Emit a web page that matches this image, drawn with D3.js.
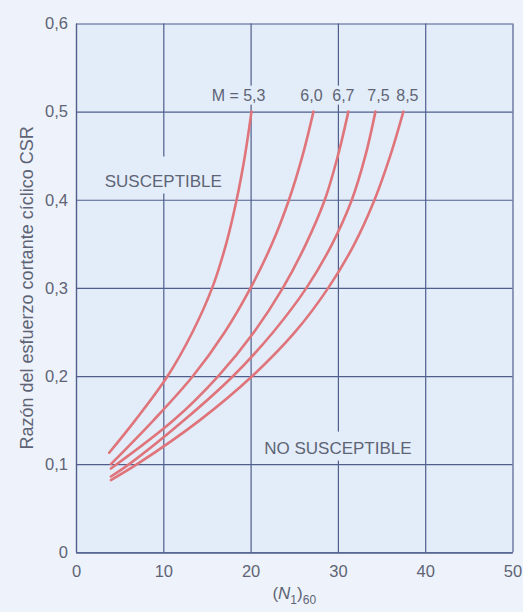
<!DOCTYPE html>
<html>
<head>
<meta charset="utf-8">
<script src="https://cdn.jsdelivr.net/npm/d3@7/dist/d3.min.js"></script>
<style>
  html, body { margin: 0; padding: 0; background: #eef3fb; }
  svg { display: block; font-family: "Liberation Sans", Arial, Helvetica, sans-serif; }
</style>
</head>
<body>
<svg id="chart" width="523" height="612"></svg>
<script>
// Liquefaction susceptibility curves: CSR vs (N1)60 for several earthquake magnitudes
const magnitudes = ["5,3", "6,0", "6,7", "7,5", "8,5"];

const n53   = [3.8, 6.8, 10.5, 13.35, 15.6, 17.2, 18.4, 19.35, 20.1];
const csr53 = [0.113, 0.15, 0.20, 0.25, 0.30, 0.35, 0.40, 0.45, 0.50];

const n60   = [4.0, 8.9, 13.4, 17.05, 20.0, 22.45, 24.4, 25.95, 27.2];
const csr60 = [0.100, 0.15, 0.20, 0.25, 0.30, 0.35, 0.40, 0.45, 0.50];

const n67   = [4.0, 11.2, 16.3, 20.4, 23.7, 26.35, 28.5, 30.0, 31.2];
const csr67 = [0.095, 0.15, 0.20, 0.25, 0.30, 0.35, 0.40, 0.45, 0.50];

const n75   = [4.0, 6.1, 12.4, 18.0, 22.6, 26.4, 29.35, 31.6, 33.15, 34.3];
const csr75 = [0.086, 0.10, 0.15, 0.20, 0.25, 0.30, 0.35, 0.40, 0.45, 0.50];

const n85   = [4.0, 7.0, 14.2, 20.2, 25.1, 28.9, 31.9, 34.2, 36.0, 37.5];
const csr85 = [0.082, 0.10, 0.15, 0.20, 0.25, 0.30, 0.35, 0.40, 0.45, 0.50];

const xTicks = [0, 10, 20, 30, 40, 50];
const yTicks = [0, 0.1, 0.2, 0.3, 0.4, 0.5, 0.6];

const regionLabels = ["SUSCEPTIBLE", "NO SUSCEPTIBLE"];
const xTitle = "(N1)60";
const yTitle = "Razón del esfuerzo cortante cíclico CSR";

// ---- layout ----
const W = 523, H = 612;
const margin = { left: 76, top: 23.5, right: W - 512.5, bottom: H - 552.3 };
const iw = W - margin.left - margin.right;
const ih = H - margin.top - margin.bottom;

const gridColor = "#4f5e8c";
const textColor = "#5e6475";
const curveColor = "#df747b";
const plotBg = "#e3edf9";

const svg = d3.select("#chart");
const g = svg.append("g").attr("transform", `translate(${margin.left},${margin.top})`);

const x = d3.scaleLinear().domain([0, 50]).range([0, iw]);
const y = d3.scaleLinear().domain([0, 0.6]).range([ih, 0]);

g.append("rect").attr("width", iw).attr("height", ih).attr("fill", plotBg);

const locale = d3.formatLocale({ decimal: ",", thousands: ".", grouping: [3], currency: ["", ""] });
const fy = v => v === 0 ? "0" : locale.format(".1f")(v);

// grid + axes
const xAxis = g.append("g").attr("transform", `translate(0,${ih})`)
  .call(d3.axisBottom(x).tickValues(xTicks).tickSizeInner(-ih).tickSizeOuter(0).tickPadding(13).tickFormat(d3.format("d")));
const yAxis = g.append("g")
  .call(d3.axisLeft(y).tickValues(yTicks).tickSizeInner(-iw).tickSizeOuter(0).tickPadding(8).tickFormat(fy));

[xAxis, yAxis].forEach(a => {
  a.select(".domain").attr("stroke", gridColor).attr("stroke-width", 1.2);
  a.selectAll(".tick line").attr("stroke", gridColor).attr("stroke-width", 1.2);
  a.selectAll(".tick text").attr("fill", textColor).attr("font-size", 16.5)
    .attr("font-family", "'Liberation Sans', Arial, sans-serif");
});

// knock-out boxes behind in-plot text (they hide the grid lines beneath)
function labelWithBox(txt, cx, baseY, size, padTop, padBottom, padX) {
  const grp = g.append("g");
  const rect = grp.append("rect").attr("fill", plotBg);
  const t = grp.append("text").attr("x", cx).attr("y", baseY)
    .attr("text-anchor", "middle").attr("font-size", size).attr("fill", textColor).text(txt);
  const bb = t.node().getBBox();
  rect.attr("x", bb.x - padX).attr("width", bb.width + 2 * padX)
    .attr("y", baseY - padTop).attr("height", padTop + padBottom);
  return t;
}

labelWithBox(regionLabels[0], x(10), y(0.415), 17, 30, 7, 4);
labelWithBox(regionLabels[1], x(30), y(0.112), 17, 22, 7, 4);

// magnitude curves
const curves = [
  [n53, csr53], [n60, csr60], [n67, csr67], [n75, csr75], [n85, csr85]
];
const line = d3.line().x(d => x(d[0])).y(d => y(d[1])).curve(d3.curveCatmullRom.alpha(0.5));

curves.forEach(([ns, cs]) => {
  const pts = ns.map((n, i) => [n, cs[i]]);
  g.append("path").datum(pts)
    .attr("d", line)
    .attr("fill", "none")
    .attr("stroke", curveColor)
    .attr("stroke-width", 2.6)
    .attr("stroke-linecap", "round");
});

// magnitude labels above the curve ends
const labelDx = [2, -2, -5, 3, 4];
curves.forEach(([ns, cs], i) => {
  const topN = ns[ns.length - 1];
  const cx = x(topN) + labelDx[i];
  const by = y(0.5) - 11;
  if (i === 0) {
    const grp = g.append("g");
    const rect = grp.append("rect").attr("fill", plotBg);
    const t = grp.append("text").attr("x", cx + 12).attr("y", by)
      .attr("text-anchor", "end").attr("font-size", 16).attr("fill", textColor)
      .text("M = " + magnitudes[i]);
    const bb = t.node().getBBox();
    rect.attr("x", bb.x - 2).attr("width", bb.width + 4).attr("y", by - 15).attr("height", 19);
  } else {
    labelWithBox(magnitudes[i], cx, by, 16, 15, 4, 2);
  }
});

// axis titles
const xt = svg.append("text")
  .attr("x", margin.left + iw / 2).attr("y", 599)
  .attr("text-anchor", "middle").attr("font-size", 17).attr("fill", textColor);
xt.append("tspan").text("(");
xt.append("tspan").attr("font-style", "italic").text(xTitle.charAt(1));
xt.append("tspan").attr("font-size", 12).attr("dy", 5).text(xTitle.charAt(2));
xt.append("tspan").attr("dy", -5).text(")");
xt.append("tspan").attr("font-size", 12).attr("dy", 5).text(xTitle.slice(4));

svg.append("text")
  .attr("transform", `translate(33,${margin.top + ih / 2}) rotate(-90)`)
  .attr("text-anchor", "middle").attr("font-size", 18).attr("fill", textColor)
  .text(yTitle);
</script>
</body>
</html>
